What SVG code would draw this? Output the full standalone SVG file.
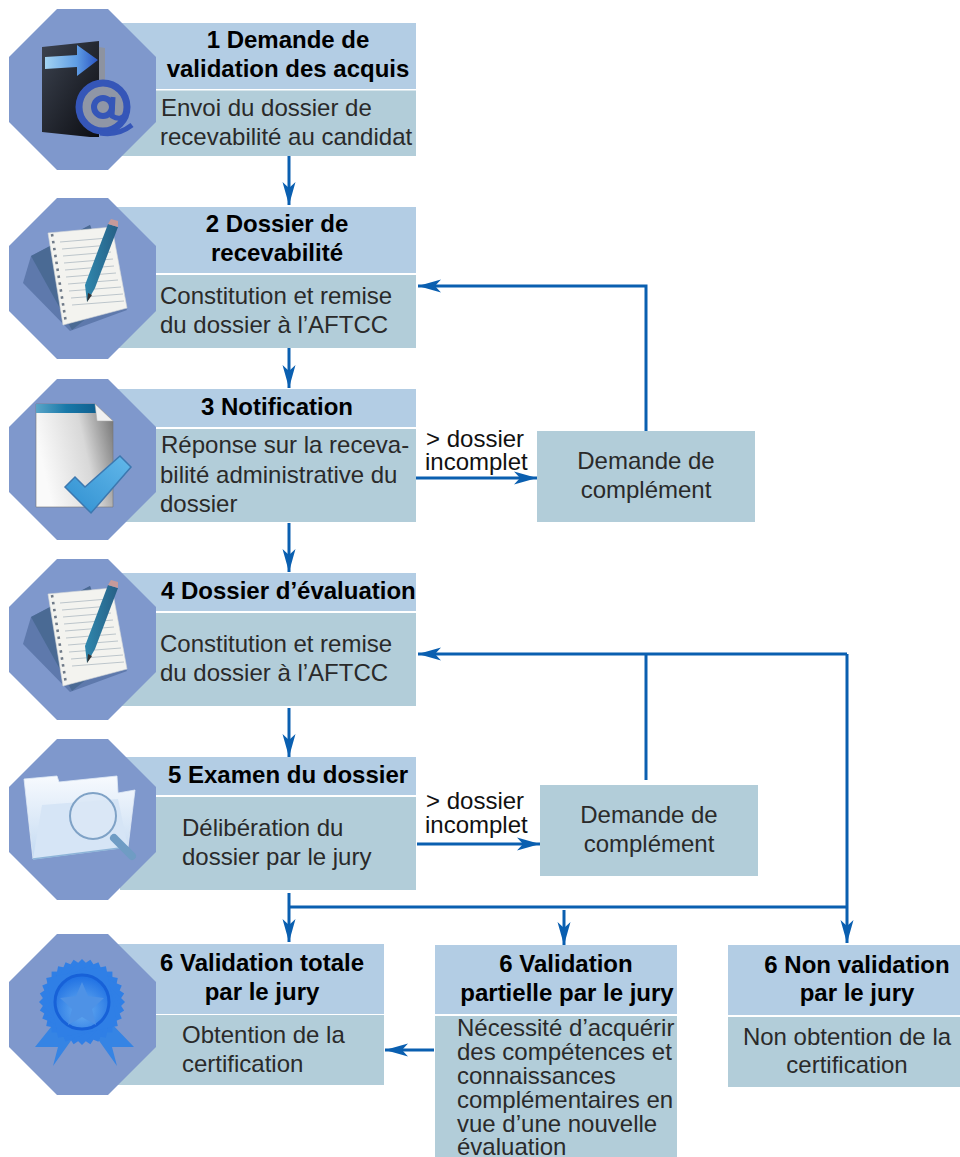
<svg xmlns="http://www.w3.org/2000/svg" width="960" height="1157" viewBox="0 0 960 1157">
<style>
text{font-family:"Liberation Sans",Arial,Helvetica,sans-serif;font-size:24px;fill:#2a2a2a}
.b{font-weight:bold;fill:#000}
.l{fill:#111}
.m{text-anchor:middle}
.h{fill:#b3cde4}
.d{fill:#b2cdd9}
.o{fill:#7f98cc}
.c{fill:none;stroke:#0a5fb0;stroke-width:3}
.ca{fill:none;stroke:#0a5fb0;stroke-width:3;marker-end:url(#a)}
</style>
<defs>
<marker id="a" markerUnits="userSpaceOnUse" markerWidth="26" markerHeight="26" refX="23" refY="13" orient="auto" viewBox="0 0 26 26"><path d="M0 6.500L23 13L0 19.500L6 13Z" fill="#0a5fb0"/></marker>
<polygon id="oct" points="57,0 108,0 156,48 156,113 108,161 57,161 9,113 9,48"/>
<linearGradient id="gSheet" x1="0" y1="0.300" x2="1" y2="0"><stop offset="0" stop-color="#fafafa"/><stop offset="0.55" stop-color="#d8d8d8"/><stop offset="1" stop-color="#6f6f6f"/></linearGradient>
<linearGradient id="gTop" x1="0" y1="0" x2="1" y2="0"><stop offset="0" stop-color="#5aa5c8"/><stop offset="0.5" stop-color="#1878a8"/><stop offset="1" stop-color="#0f5f8f"/></linearGradient>
<linearGradient id="gDark" x1="0" y1="0" x2="1" y2="1"><stop offset="0" stop-color="#3c4350"/><stop offset="1" stop-color="#0c0d12"/></linearGradient>
<linearGradient id="gBlue" x1="0" y1="0" x2="1" y2="0"><stop offset="0" stop-color="#a3d3f2"/><stop offset="0.6" stop-color="#5f9de4"/><stop offset="1" stop-color="#2a55c4"/></linearGradient>
<linearGradient id="gCheck" x1="0" y1="1" x2="1" y2="0"><stop offset="0" stop-color="#2f8fd0"/><stop offset="1" stop-color="#63b8ea"/></linearGradient>
<linearGradient id="gBar" x1="0" y1="0" x2="1" y2="0"><stop offset="0" stop-color="#2f87ad"/><stop offset="1" stop-color="#275f85"/></linearGradient>
<linearGradient id="gFolder" x1="0" y1="0" x2="0" y2="1"><stop offset="0" stop-color="#f7fafe"/><stop offset="1" stop-color="#c4daf2"/></linearGradient>
<radialGradient id="gMed" cx="0.5" cy="0.65" r="0.6"><stop offset="0" stop-color="#6aaef0"/><stop offset="1" stop-color="#2374e4"/></radialGradient>
<g id="pad">
<polygon points="23,85 31,58 90,27 127,112 70,133" fill="#5e79ac"/>
<polygon points="31,58 90,27 112,100 72,132" fill="#4a6a94"/>
<polygon points="48,35 112,29 127,110 63,127" fill="#f3f3ef" stroke="#d4d6d8" stroke-width="0.6"/>
<path d="M60 44L108 40M62 51L110 47M63 58L111 54M64 65L113 61M65 72L114 68M66 79L116 75M68 86L118 82M69 93L121 89M71 100L123 96M72 107L124 103" stroke="#b5bfc6" stroke-width="0.9" fill="none"/>
<path d="M52 36L66 125" stroke="#6f7a88" stroke-width="2.600" stroke-dasharray="2.500 4.500" fill="none"/>
<polygon points="108,26 118,29 95,90 87,104 85,87" fill="url(#gBar)"/>
<polygon points="87,104 88,95 92,97" fill="#333"/>
<polygon points="108,26 111,21 118,23 118,29" fill="#c79a9a"/>
</g>
</defs>
<g id="connectors">
<path class="ca" d="M289 156V205"/>
<path class="ca" d="M289 340V388"/>
<path class="ca" d="M289 523V572"/>
<path class="ca" d="M289 708V757"/>
<path class="ca" d="M289 893V942"/>
<path class="c" d="M289 907H847"/>
<path class="ca" d="M564 910V945"/>
<path class="ca" d="M847 654V943"/>
<path class="ca" d="M847 654H418"/>
<path class="c" d="M646 654V780"/>
<path class="ca" d="M646 431V286H418"/>
<path class="ca" d="M415 478H537"/>
<path class="ca" d="M417 844H540"/>
<path class="ca" d="M434 1050H385"/>
</g>
<g id="node1">
<rect class="h" x="120" y="23" width="296" height="66"/><rect class="d" x="120" y="90.500" width="296" height="65.500"/>
<use href="#oct" class="o" y="9"/>
<polygon points="42,47 99,41 99,137 90,137 42,132" fill="url(#gDark)"/><polygon points="99,47 105,48 105,88 99,90" fill="#8d93a0"/>
<polygon points="45,57 77,55 77,45 98,60 77,76 77,67 45,69" fill="url(#gBlue)"/>
<circle cx="103" cy="107" r="24" fill="#8f96a6" stroke="#3556b8" stroke-width="7"/><circle cx="103" cy="107" r="9" fill="none" stroke="#3556b8" stroke-width="6"/>
<path d="M113 97L112 116Q122 122 127 112M100 133Q118 136 132 125" fill="none" stroke="#3556b8" stroke-width="5"/>
<text class="b m" x="288" y="48">1 Demande de</text><text class="b m" x="288" y="77">validation des acquis</text>
<text x="161" y="116">Envoi du dossier de</text><text x="160" y="145">recevabilité au candidat</text>
</g>
<g id="node2">
<rect class="h" x="115" y="207" width="301" height="66"/><rect class="d" x="115" y="275" width="301" height="73"/>
<use href="#oct" class="o" y="198"/>
<use href="#pad" y="198"/>
<text class="b m" x="277" y="232">2 Dossier de</text><text class="b m" x="277" y="261">recevabilité</text>
<text x="160" y="304">Constitution et remise</text><text x="160" y="333">du dossier à l’AFTCC</text>
</g>
<g id="node3">
<rect class="h" x="115" y="389" width="301" height="38"/><rect class="d" x="120" y="429" width="296" height="93"/>
<use href="#oct" class="o" y="379"/>
<polygon points="36,404 95,404 113,421 113,507 36,507" fill="url(#gSheet)" stroke="#777" stroke-width="0.6"/>
<polygon points="36,404 95,404 97,413 36,413" fill="url(#gTop)"/>
<polygon points="95,404 113,421 97,421" fill="#f0f0f0" stroke="#aaa" stroke-width="0.5"/>
<polygon points="65,487 75,477 85,487 120,456 131,467 91,513" fill="url(#gCheck)" stroke="#3c78b0" stroke-width="1.500"/>
<text class="b m" x="277" y="415">3 Notification</text>
<text x="161" y="453">Réponse sur la receva-</text><text x="160" y="483">bilité administrative du</text><text x="160" y="512">dossier</text>
</g>
<g id="node4">
<rect class="h" x="120" y="573" width="296" height="38"/><rect class="d" x="120" y="613" width="296" height="93"/>
<use href="#oct" class="o" y="559"/>
<use href="#pad" y="559"/>
<text class="b" x="161" y="599">4 Dossier d’évaluation</text>
<text x="160" y="652">Constitution et remise</text><text x="160" y="681">du dossier à l’AFTCC</text>
</g>
<g id="node5">
<rect class="h" x="125" y="757" width="291" height="38"/><rect class="d" x="120" y="797" width="296" height="93"/>
<use href="#oct" class="o" y="739"/>
<polygon points="24,779 57,776 59,782 117,776 118,793 135,790 128,847 33,859" fill="url(#gFolder)" stroke="#e0eaf5" stroke-width="0.8"/>
<polygon points="42,805 118,799 128,847 33,859" fill="#d6e5f6"/>
<path d="M33 859L128 847" stroke="#8db4d8" stroke-width="1.500" fill="none"/>
<path d="M114 838L132 856" stroke="#6f9cc4" stroke-width="8" stroke-linecap="round"/>
<circle cx="93" cy="816" r="23" fill="#dbe8f6" fill-opacity="0.85" stroke="#7fa2c6" stroke-width="2"/>
<text class="b" x="168" y="783">5 Examen du dossier</text>
<text x="182" y="836">Délibération du</text><text x="182" y="865">dossier par le jury</text>
</g>
<g id="node6a">
<rect class="h" x="115" y="944" width="269" height="70"/><rect class="d" x="115" y="1015" width="269" height="70"/>
<use href="#oct" class="o" y="934"/>
<polygon points="55,1022 35,1047 58,1047 53,1066 75,1035" fill="#3584e4"/><polygon points="110,1022 134,1047 112,1047 117,1066 95,1035" fill="#3584e4"/>
<g fill="#2f7fe6">
<rect x="51.600" y="971.600" width="60.800" height="60.800"/>
<rect x="51.600" y="971.600" width="60.800" height="60.800" transform="rotate(11.250 82 1002)"/>
<rect x="51.600" y="971.600" width="60.800" height="60.800" transform="rotate(22.500 82 1002)"/>
<rect x="51.600" y="971.600" width="60.800" height="60.800" transform="rotate(33.750 82 1002)"/>
<rect x="51.600" y="971.600" width="60.800" height="60.800" transform="rotate(45 82 1002)"/>
<rect x="51.600" y="971.600" width="60.800" height="60.800" transform="rotate(56.250 82 1002)"/>
<rect x="51.600" y="971.600" width="60.800" height="60.800" transform="rotate(67.500 82 1002)"/>
<rect x="51.600" y="971.600" width="60.800" height="60.800" transform="rotate(78.750 82 1002)"/>
</g>
<circle cx="82" cy="1002" r="27" fill="url(#gMed)" stroke="#1761d8" stroke-width="3"/>
<polygon points="82,982 88,996 104,998 92,1009 96,1025 82,1017 68,1025 72,1009 60,998 76,996" fill="#4e92e6"/>
<text class="b m" x="262" y="971">6 Validation totale</text><text class="b m" x="262" y="1000">par le jury</text>
<text x="182" y="1043">Obtention de la</text><text x="182" y="1072">certification</text>
</g>
<g id="node6b">
<rect class="h" x="435" y="945" width="242" height="69"/><rect class="d" x="435" y="1016" width="242" height="141"/>
<text class="b m" x="566" y="972">6 Validation</text><text class="b m" x="567" y="1001">partielle par le jury</text>
<text x="457" y="1036">Nécessité d’acquérir</text><text x="457" y="1060">des compétences et</text><text x="457" y="1084">connaissances</text><text x="457" y="1108">complémentaires en</text><text x="457" y="1132">vue d’une nouvelle</text><text x="457" y="1155">évaluation</text>
</g>
<g id="node6c">
<rect class="h" x="728" y="945" width="232" height="70"/><rect class="d" x="728" y="1017" width="232" height="70"/>
<text class="b m" x="857" y="973">6 Non validation</text><text class="b m" x="857" y="1001">par le jury</text>
<text class="m" x="847" y="1045">Non obtention de la</text><text class="m" x="847" y="1073">certification</text>
</g>
<g id="note1">
<rect class="d" x="537" y="431" width="218" height="91"/>
<text class="m" x="646" y="469">Demande de</text><text class="m" x="646" y="498">complément</text>
</g>
<g id="note2">
<rect class="d" x="540" y="785" width="218" height="91"/>
<text class="m" x="649" y="823">Demande de</text><text class="m" x="649" y="852">complément</text>
</g>
<g id="labels">
<text class="l" x="426" y="447">&gt; dossier</text><text class="l" x="425" y="470">incomplet</text>
<text class="l" x="426" y="809">&gt; dossier</text><text class="l" x="425" y="833">incomplet</text>
</g>
</svg>
